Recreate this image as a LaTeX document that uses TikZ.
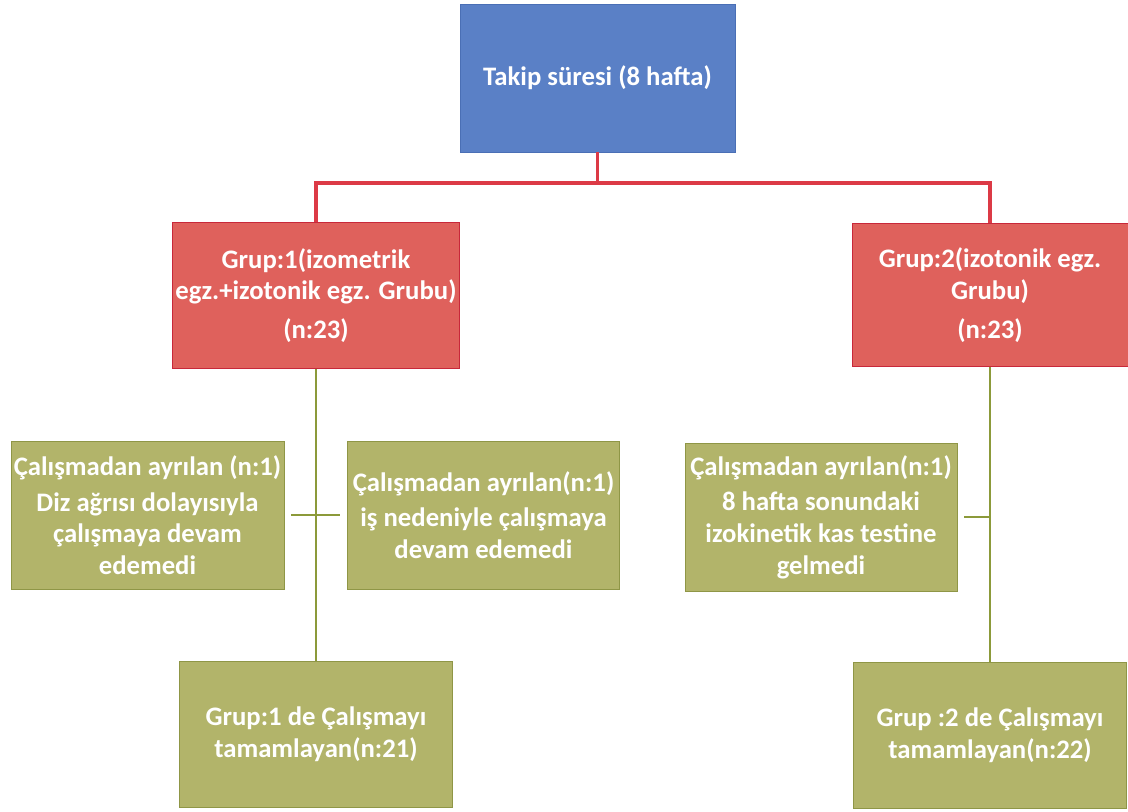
\documentclass[tikz,border=0pt]{standalone}
\usepackage{fontspec}
\setmainfont{Carlito}
\usetikzlibrary{positioning}
\definecolor{takblue}{HTML}{5A80C6}
\definecolor{takblueln}{HTML}{4A6FB5}
\definecolor{grpred}{HTML}{DF615C}
\definecolor{grpredln}{HTML}{C8283A}
\definecolor{olv}{HTML}{B2B46A}
\definecolor{olvln}{HTML}{8F9646}
\definecolor{redwire}{HTML}{DC3A46}
\definecolor{olvwire}{HTML}{8C9A3A}
\tikzset{
  bx/.style={align=center, text=white, inner sep=2pt, font=\bfseries\fontsize{19}{22.5}\selectfont},
  top/.style={bx, draw=takblueln, fill=takblue, minimum width=6.875cm, minimum height=3.7cm},
  grp/.style={bx, draw=grpredln, fill=grpred, minimum width=6.85cm, minimum height=3.65cm},
  drop/.style={bx, draw=olvln, fill=olv, minimum width=6.8cm, minimum height=3.7cm},
  done/.style={bx, draw=olvln, fill=olv, minimum width=6.82cm, minimum height=3.66cm},
  rw/.style={draw=redwire, line width=2.5pt},
  ow/.style={draw=olvwire, line width=1.8pt},
}
\begin{document}
\begin{tikzpicture}[x=0.025cm, y=-0.025cm]
  \useasboundingbox (0,0) rectangle (1128,811);
  \node[top] (tk) at (597.5,78) {Takip süresi (8 hafta)};
  \node[grp] (g1) at (316,295.5) {Grup:1(izometrik\\egz.+izotonik egz. Grubu)\\[5pt](n:23)};
  \node[grp, minimum width=6.9cm, minimum height=3.58cm] (g2) at (990,295) {Grup:2(izotonik egz.\\Grubu)\\[5pt](n:23)};
  \coordinate (split) at (597.5,183);
  \draw[rw] (tk.south) -- (split);
  \draw[rw] (g1.north) |- (split) -| (g2.north);
  % drop-outs
  \node[drop] (d1) at (147.5,515) {Çalışmadan ayrılan (n:1)\\[3pt]Diz ağrısı dolayısıyla\\çalışmaya devam\\edemedi};
  \node[drop] (d2) at (483.5,515) {Çalışmadan ayrılan(n:1)\\[3pt]iş nedeniyle çalışmaya\\devam edemedi};
  \node[drop] (d3) at (821,517) {Çalışmadan ayrılan(n:1)\\[3pt]8 hafta sonundaki\\izokinetik kas testine\\gelmedi};
  % completers
  \node[done] (c1) at (316,734.5) {Grup:1 de Çalışmayı\\tamamlayan(n:21)};
  \node[done] (c2) at (990,735) {Grup :2 de Çalışmayı\\tamamlayan(n:22)};
  \draw[ow] (g1.south) -- (c1.north);
  \draw[ow] (g2.south) -- (c2.north);
  \draw[ow, line width=1.3pt, shorten <=5pt, shorten >=5pt] (d1.east) -- (d2.west);
  \draw[ow, line width=1.3pt, shorten <=5pt] (d3.east) -- (d3.east -| g2.south);
\end{tikzpicture}
\end{document}
